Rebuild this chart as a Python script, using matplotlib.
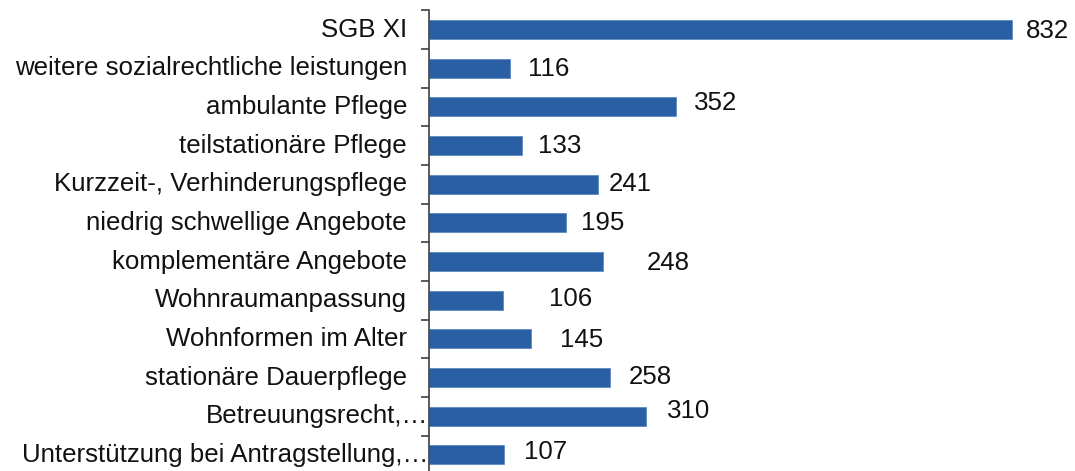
import matplotlib
matplotlib.use("Agg")
import matplotlib.pyplot as plt
from matplotlib.transforms import blended_transform_factory, offset_copy

categories = [
    "SGB XI",
    "weitere sozialrechtliche leistungen",
    "ambulante Pflege",
    "teilstationäre Pflege",
    "Kurzzeit-, Verhinderungspflege",
    "niedrig schwellige Angebote",
    "komplementäre Angebote",
    "Wohnraumanpassung",
    "Wohnformen im Alter",
    "stationäre Dauerpflege",
    "Betreuungsrecht,…",
    "Unterstützung bei Antragstellung,…",
]
values = [832, 116, 352, 133, 241, 195, 248, 106, 145, 258, 310, 107]

# label placement tweaks (pixels) to mimic the original layout
value_dx = [14, 18, 18, 16, 11, 15, 44, 46, 29, 19, 21, 20]
value_dy = [1, 1, -4, 0, 0, 0.5, 1.5, -1, 1.5, -1, -5.5, -2.5]
cat_pad = [22, 22, 22, 22, 22, 22, 22, 22, 22, 22, 1, 1]

W, H, DPI = 1075, 471, 100
plt.rcParams['font.family'] = ['Liberation Sans', 'DejaVu Sans']
fig = plt.figure(figsize=(W / DPI, H / DPI), dpi=DPI)
fig.patch.set_facecolor('white')

ax_left, ax_top, ax_bottom, ax_right = 429, 10.2, 474.3, 1075
ax = fig.add_axes([ax_left / W, 1 - ax_bottom / H,
                   (ax_right - ax_left) / W, (ax_bottom - ax_top) / H])

px_per_unit = (1012 - 429) / 832
ax.set_xlim(0, (ax_right - ax_left) / px_per_unit)

n = len(categories)
pos = list(range(n))
ax.barh(pos, values, height=0.49, color='#2A5FA3', edgecolor='#5F8AC4', linewidth=0.6)
ax.set_ylim(n - 0.5, -0.5)

for s in ['top', 'right', 'bottom']:
    ax.spines[s].set_visible(False)
ax.spines['left'].set_color('#404040')
ax.spines['left'].set_linewidth(1.2)
ax.set_xticks([])
ax.set_yticks([])
ax.set_yticks([p - 0.5 for p in pos] + [n - 0.5], minor=True)
ax.tick_params(axis='y', which='minor', direction='out', length=5.5, width=1.2,
               color='#404040', labelleft=False)
ax.tick_params(axis='y', which='major', length=0)

fs = 18.6
tcol = '#111111'
btrans = blended_transform_factory(ax.transAxes, ax.transData)
for p, c, pad in zip(pos, categories, cat_pad):
    tr = offset_copy(btrans, fig=fig, x=-pad * 72 / DPI, y=0, units='points')
    ax.text(0, p, c, transform=tr, ha='right', va='center', fontsize=fs, color=tcol)

for p, v, dx, dy in zip(pos, values, value_dx, value_dy):
    ax.annotate(str(v), xy=(v, p), xytext=(dx * 72 / DPI, -dy * 72 / DPI),
                textcoords='offset points', ha='left', va='center',
                fontsize=fs, color=tcol, annotation_clip=False)

fig.savefig('out.png', dpi=DPI, facecolor='white')
